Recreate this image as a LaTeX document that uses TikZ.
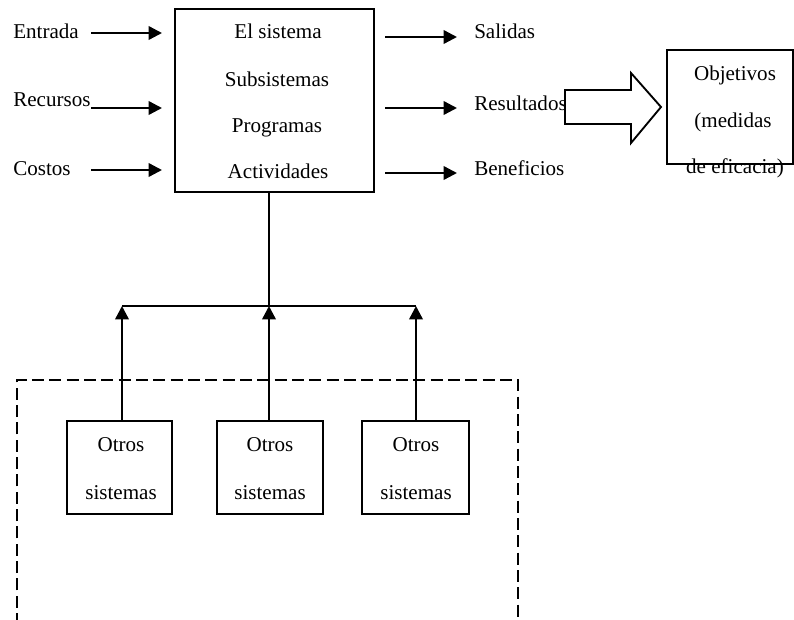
\documentclass[tikz,border=0pt]{standalone}
\usepackage{fontspec}
\setmainfont{Liberation Serif}
\usetikzlibrary{arrows.meta,fit}

\begin{document}
\begin{tikzpicture}[x=0.75pt,y=-0.75pt,
  every node/.style={font=\fontsize{15.8}{19}\selectfont, inner sep=0pt},
  label/.style={anchor=base west},
  line/.style={anchor=base},
  box/.style={draw, line width=1.5pt, inner sep=0pt},
  link/.style={line width=1.8pt},
  arr/.style={link, -{Triangle[length=10pt,width=10pt]}},
  hollow/.style={draw, line width=1.4pt, line join=miter}
]
\useasboundingbox (0,0) rectangle (794,619);

% central system block
\node[box, fit={(175,9) (374,192)}] (sys) {};
\node[line] (t1) at (278,38) {El sistema};
\node[line] (t2) at (277,86) {Subsistemas};
\node[line] (t3) at (277,132) {Programas};
\node[line] (t4) at (278,178) {Actividades};

% inputs
\node[label] (entrada) at (13,38) {Entrada};
\node[label] (recursos) at (13,106) {Recursos};
\node[label] (costos) at (13,175) {Costos};
\coordinate (i1) at (91,33);
\coordinate (i2) at (91,108);
\coordinate (i3) at (91,170);
\draw[arr, shorten >=9pt] (i1) -- (i1 -| sys.west);
\draw[arr, shorten >=9pt] (i2) -- (i2 -| sys.west);
\draw[arr, shorten >=9pt] (i3) -- (i3 -| sys.west);

% outputs
\node[label] (salidas) at (474,38) {Salidas};
\node[label] (resultados) at (474,110) {Resultados};
\node[label] (beneficios) at (474,175) {Beneficios};
\coordinate (o1) at (457,37);
\coordinate (o2) at (457,108);
\coordinate (o3) at (457,173);
\draw[arr, shorten <=7.5pt] (o1 -| sys.east) -- (o1);
\draw[arr, shorten <=7.5pt] (o2 -| sys.east) -- (o2);
\draw[arr, shorten <=7.5pt] (o3 -| sys.east) -- (o3);

% block arrow towards the objectives
\draw[hollow] (565,90) -- (631,90) -- (631,73) -- (661,107) -- (631,143)
  -- (631,124) -- (565,124) -- cycle;

% objectives
\node[line] (ob1) at (735,80) {Objetivos};
\node[line] (ob2) at (733,127) {(medidas};
\node[line] (ob3) at (735,173) {de eficacia)};
\node[box, fit={(667,50) (793,164)}] (obj) {};

% other systems
\node[box, fit={(67,421) (172,514)}] (s1) {};
\node[box, fit={(217,421) (323,514)}] (s2) {};
\node[box, fit={(362,421) (469,514)}] (s3) {};
\node[line] (s1a) at (121,451) {Otros};
\node[line] (s1b) at (121,499) {sistemas};
\node[line] (s2a) at (270,451) {Otros};
\node[line] (s2b) at (270,499) {sistemas};
\node[line] (s3a) at (416,451) {Otros};
\node[line] (s3b) at (416,499) {sistemas};

% collecting bar
\coordinate (bl) at (122,306);
\coordinate (bm) at (269,306);
\coordinate (br) at (416,306);
\draw[link, line width=1.5pt] (bl) -- (br);
\draw[link, line width=1.5pt] (sys.south -| bm) -- (bm);
\draw[arr] (s1.north -| bl) -- (bl);
\draw[arr] (s2.north -| bm) -- (bm);
\draw[arr] (s3.north -| br) -- (br);

% environment boundary
\coordinate (e1) at (17,625);
\coordinate (e2) at (17,380);
\coordinate (e3) at (518,380);
\coordinate (e4) at (518,625);
\draw[line width=1.4pt, dash pattern=on 9pt off 4pt] (e1) -- (e2) -- (e3) -- (e4);
\end{tikzpicture}
\end{document}
